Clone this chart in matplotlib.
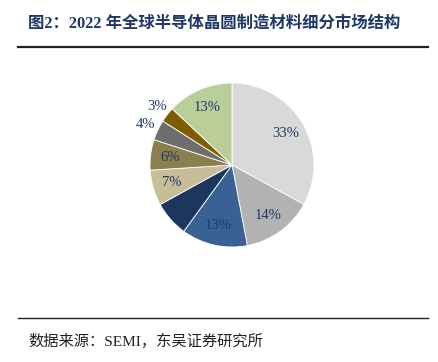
import numpy as np
import matplotlib
matplotlib.use("Agg")
import matplotlib.pyplot as plt

plt.rcParams['font.family'] = ['Liberation Serif', 'Noto Sans CJK SC', 'DejaVu Sans']

values = [33, 14, 13, 7, 7, 6, 4, 3, 13]
colors = ['#D9D9D9', '#B2B2B2', '#3A6193', '#1B375C', '#C7BD97',
          '#8C7E4E', '#6E6E6E', '#7F5C00', '#BACE99']
title = '图2：2022 年全球半导体晶圆制造材料细分市场结构'
source = '数据来源：SEMI，东吴证券研究所'
txt_color = '#1F3864'

fig = plt.figure(figsize=(4.39, 3.62), dpi=100)

# title + rules
fig.text(28 / 439, 1 - 24 / 362, title, fontsize=11.8, fontweight='bold',
         color=txt_color, va='center', ha='left',
         family=['Liberation Serif', 'Noto Sans CJK SC'])
fig.add_artist(plt.Line2D([18 / 439, 428 / 439], [1 - 47 / 362] * 2,
                          color='#222222', lw=1.6))
fig.add_artist(plt.Line2D([18 / 439, 428 / 439], [1 - 318 / 362] * 2,
                          color='#222222', lw=1.0))
fig.text(28 / 439, 1 - 341 / 362, source, fontsize=11, color='#222222',
         va='center', ha='left', family=['Liberation Serif', 'Noto Sans CJK SC'])

# pie
cx, cy, r = 232, 165, 82
ax = fig.add_axes([(cx - r) / 439, (362 - cy - r) / 362, 2 * r / 439, 2 * r / 362])
wedges, texts, autotexts = ax.pie(values, colors=colors, startangle=90,
                                  counterclock=False, autopct='%d%%',
                                  pctdistance=0.76,
                                  wedgeprops=dict(edgecolor='white', linewidth=0.6),
                                  textprops=dict(color=txt_color, fontsize=10.5))
# small slices: labels outside
for w, t, v in zip(wedges, autotexts, values):
    if v <= 4:
        ang = np.deg2rad((w.theta1 + w.theta2) / 2)
        t.set_position((1.16 * np.cos(ang), 1.16 * np.sin(ang)))
ax.set_xlim(-1, 1)
ax.set_ylim(-1, 1)
ax.set_aspect('equal')
ax.axis('off')

fig.savefig('out.png', dpi=100)
